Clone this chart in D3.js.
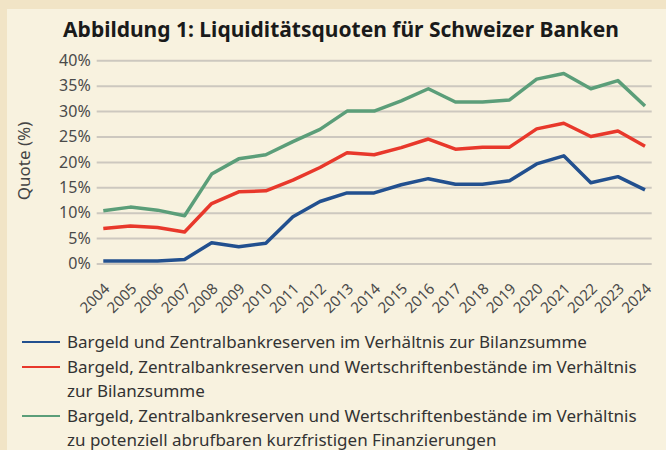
<!DOCTYPE html>
<html><head><meta charset="utf-8">
<script src="https://cdn.jsdelivr.net/npm/d3@7"></script>
<style>
html,body{margin:0;padding:0;background:#f1e4c6;}
svg{display:block;}
</style></head>
<body>
<svg id="chart" width="666" height="450"></svg>
<script>
const years = [2004,2005,2006,2007,2008,2009,2010,2011,2012,2013,2014,2015,2016,2017,2018,2019,2020,2021,2022,2023,2024];
const blueValues = [0.5,0.5,0.5,0.8,4.1,3.3,4.0,9.2,12.2,13.9,13.9,15.5,16.7,15.6,15.6,16.3,19.6,21.2,15.9,17.1,14.5];
const redValues = [6.9,7.4,7.1,6.2,11.8,14.1,14.3,16.4,18.9,21.8,21.4,22.8,24.5,22.5,22.9,22.9,26.5,27.6,25.0,26.1,23.1];
const greenValues = [10.4,11.1,10.5,9.4,17.6,20.6,21.4,24.0,26.4,30.0,30.0,32.0,34.4,31.8,31.8,32.2,36.3,37.4,34.4,36.0,31.0];
const yTicks = [0,5,10,15,20,25,30,35,40];
const seriesNames = [
  ["Bargeld und Zentralbankreserven im Verhältnis zur Bilanzsumme"],
  ["Bargeld, Zentralbankreserven und Wertschriftenbestände im Verhältnis","zur Bilanzsumme"],
  ["Bargeld, Zentralbankreserven und Wertschriftenbestände im Verhältnis","zu potenziell abrufbaren kurzfristigen Finanzierungen"]
];
const seriesColors = ["#22508f","#e8382b","#5b9e79"];
const title = "Abbildung 1: Liquiditätsquoten für Schweizer Banken";
const yTitle = "Quote (%)";

const svg = d3.select("#chart");
svg.append("rect").attr("x",0).attr("y",0).attr("width",666).attr("height",450).attr("fill","#f1e4c6");
svg.append("rect").attr("x",7).attr("y",9).attr("width",659).attr("height",441).attr("fill","#f8f2df");

const font = "'Noto Sans', sans-serif";
svg.append("text").attr("x",341).attr("y",37).attr("text-anchor","middle")
  .attr("font-family",font).attr("font-weight","bold").attr("font-size",21).attr("fill","#1a1a1a").text(title);

const x = d3.scaleLinear().domain([2004,2024]).range([103.3,645]);
const y = d3.scaleLinear().domain([0,40]).range([263.5,60.3]);

const yAxis = d3.axisLeft(y).tickValues(yTicks).tickFormat(d=>d+"%").tickSize(-555).tickPadding(6);
const gy = svg.append("g").attr("transform","translate(96.7,0)").call(yAxis);
gy.select(".domain").remove();
gy.selectAll(".tick line").attr("stroke","#cdc8bf").attr("stroke-width",2);
gy.selectAll(".tick text").attr("font-family",font).attr("font-size",16).attr("fill","#4a4a4a").attr("x",-6);

const xAxis = d3.axisBottom(x).tickValues(years).tickFormat(d3.format("d")).tickSize(0);
const gx = svg.append("g").attr("transform","translate(0,268)").call(xAxis);
gx.select(".domain").remove();
gx.selectAll(".tick text").attr("font-family",font).attr("font-size",15).attr("fill","#4a4a4a")
  .attr("text-anchor","end").attr("y",0).attr("dy","0.35em").attr("dx","0")
  .attr("transform","translate(3,18) rotate(-45)");

svg.append("text").attr("transform","translate(30,161) rotate(-90)").attr("text-anchor","middle")
  .attr("font-family",font).attr("font-size",17).attr("fill","#444").text(yTitle);

const line = d3.line().x((d,i)=>x(years[i])).y(d=>y(d));
[blueValues,redValues,greenValues].forEach((vals,k)=>{
  svg.append("path").datum(vals).attr("d",line).attr("fill","none")
    .attr("stroke",seriesColors[k]).attr("stroke-width",3.5).attr("stroke-linejoin","round");
});

const rowY = [342,367,391,416,440];
let r = 0;
seriesNames.forEach((lines,k)=>{
  svg.append("line").attr("x1",22).attr("x2",60).attr("y1",rowY[r]).attr("y2",rowY[r])
    .attr("stroke",seriesColors[k]).attr("stroke-width",2);
  lines.forEach(t=>{
    svg.append("text").attr("x",67).attr("y",rowY[r]).attr("dy","0.35em")
      .attr("font-family",font).attr("font-size",17).attr("fill","#333").text(t);
    r++;
  });
});
</script>
</body></html>
